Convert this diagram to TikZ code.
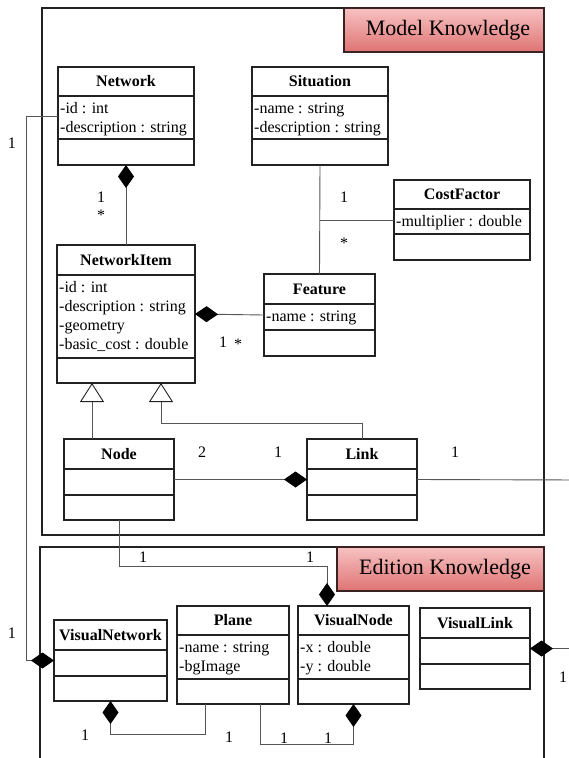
\documentclass[tikz,border=0pt]{standalone}
\usepackage{fontspec}
\setmainfont{Liberation Serif}
\usetikzlibrary{arrows.meta}
\definecolor{lblTop}{HTML}{F7C2C2}
\definecolor{lblBot}{HTML}{DF7373}
\definecolor{lineC}{HTML}{555555}
\definecolor{boxC}{HTML}{222222}
\definecolor{lblBorder}{HTML}{3A2222}
\tikzset{
  classbox/.style={draw=boxC, line width=1.3pt, rectangle, inner sep=0pt, outer sep=0pt, fill=white},
  classtitle/.style={font=\bfseries\fontsize{16}{19}\selectfont, inner sep=0pt},
  classline/.style={draw=boxC, line width=1.3pt},
  attrline/.style={anchor=base west, inner xsep=2pt, inner ysep=0pt, font=\fontsize{16}{19}\selectfont},
  conn/.style={draw=lineC, line width=0.9pt},
  comp/.style={conn, -{Diamond[length=23pt,width=16pt,color=black,fill=black]}},
  gen/.style={conn, -{Triangle[open,length=19pt,width=24pt,color=boxC,fill=white]}},
  mult/.style={font=\fontsize{16}{19}\selectfont, inner sep=0pt},
  framebox/.style={draw=boxC, line width=1.4pt, rectangle, inner sep=0pt, outer sep=0pt},
  framel/.style={draw=boxC, line width=1.4pt},
  pkglabel/.style={draw=lblBorder, line width=1.2pt, rectangle, inner sep=0pt, outer sep=0pt,
    top color=lblTop, bottom color=lblBot, font=\fontsize{22}{24}\selectfont}
}
\newcommand{\umlclass}[9]{%
  \node[classbox, minimum width={(#4)-(#2)}, minimum height={(#5)-(#3)}] (#1) at ({((#2)+(#4))/2},{((#3)+(#5))/2}) {};
  \node[classtitle] (#1-title) at ({((#2)+(#4))/2},{((#3)+(#6))/2}) {#8};
  \draw[classline] (#2,#6) -- (#4,#6) (#2,#7) -- (#4,#7);
  \foreach \attrtext [count=\attrk] in {#9} {%
    \node[attrline] (#1-a\attrk) at (#2,{(#6)+17+19*(\attrk-1)}) {\attrtext};
  }%
}
\begin{document}
\begin{tikzpicture}[x=1pt,y=-1pt]
\useasboundingbox (0,0) rectangle (569,758);
\clip (0,0) rectangle (569,758);
\fill[white] (0,0) rectangle (569,758);

% package frames
\node[framebox, minimum width=502, minimum height=527] (modelframe) at (293,271.5) {};
\draw[framel] (40,770) -- (40,547) -- (544,547) -- (544,770);
\node[pkglabel, minimum width=200, minimum height=44] (modellabel) at (444,30) {\hspace*{8pt}Model Knowledge};
\node[pkglabel, minimum width=207, minimum height=44] (editionlabel) at (440.5,569) {\hspace*{9pt}Edition Knowledge};

% classes
\umlclass{network}{58}{67}{194}{165}{96}{139}{Network}{-id : int, -description : string}
\umlclass{situation}{252}{67}{388}{165}{96}{139}{Situation}{-name : string, -description : string}
\umlclass{costfactor}{394}{180}{530}{260}{209}{234}{CostFactor}{-multiplier : double}
\umlclass{networkitem}{57}{245}{195}{383}{275}{358}{NetworkItem}{-id : int, -description : string, -geometry, -basic\_cost : double}
\umlclass{feature}{264}{274}{375}{356}{304}{330}{Feature}{-name : string}
\umlclass{node}{64}{439}{174}{520}{469}{495}{Node}{}
\umlclass{link}{307}{439}{417}{520}{469}{495}{Link}{}
\umlclass{visualnetwork}{54}{620}{167}{701}{650}{676}{VisualNetwork}{}
\umlclass{plane}{177}{606}{289}{704}{635}{679}{Plane}{-name : string, -bgImage}
\umlclass{visualnode}{298}{606}{409}{704}{635}{679}{VisualNode}{-x : double, -y : double}
\umlclass{visuallink}{420}{608}{530}{689}{638}{664}{VisualLink}{}

% helper coordinates
\coordinate (g1) at ([xshift=28pt]node.north west);
\coordinate (g2) at ([xshift=104pt]networkitem.south west);
\coordinate (vn1) at ([xshift=29pt]visualnode.north west);
\coordinate (pl1) at ([xshift=28pt]plane.south west);
\coordinate (pl2) at ([xshift=83pt]plane.south west);
\coordinate (offright) at (580,480);

% connectors
\draw[comp] (networkitem.north) -- (network.south);
\draw[comp] (network.west) -- ++(-32,0) |- (visualnetwork.west);
\draw[conn] (situation.south) -- (feature.north);
\draw[conn] (costfactor.west) -- (situation.south |- costfactor.west);
\draw[comp] (feature.west) -- (networkitem.east);
\draw[gen] (g1) -- (g1 |- networkitem.south);
\draw[gen] (link.north) -- ++(0,-16) -| (g2);
\draw[comp] (node.east) -- (link.west);
\draw[comp] (link.east) -- (offright) |- (visuallink.east);
\draw[comp] (node.south) -- ++(0,46) -| (vn1);
\draw[comp] (pl1) -- ++(0,30) -| (visualnetwork.south);
\draw[comp] (pl2) -- ++(0,40) -| (visualnode.south);

% multiplicities
\node[mult] (m1) at (12,143) {1};
\node[mult] (m2) at (101,197) {1};
\node[mult] (m3) at (101,215) {*};
\node[mult] (m4) at (344,197) {1};
\node[mult] (m5) at (344,243) {*};
\node[mult] (m6) at (223,342) {1};
\node[mult] (m7) at (238,344) {*};
\node[mult] (m8) at (202,452) {2};
\node[mult] (m9) at (278,452) {1};
\node[mult] (m10) at (455,452) {1};
\node[mult] (m11) at (143,557) {1};
\node[mult] (m12) at (310,557) {1};
\node[mult] (m13) at (12,633) {1};
\node[mult] (m14) at (85,735) {1};
\node[mult] (m15) at (229,737) {1};
\node[mult] (m16) at (284,738) {1};
\node[mult] (m17) at (328,738) {1};
\node[mult] (m18) at (563,677) {1};
\end{tikzpicture}
\end{document}
